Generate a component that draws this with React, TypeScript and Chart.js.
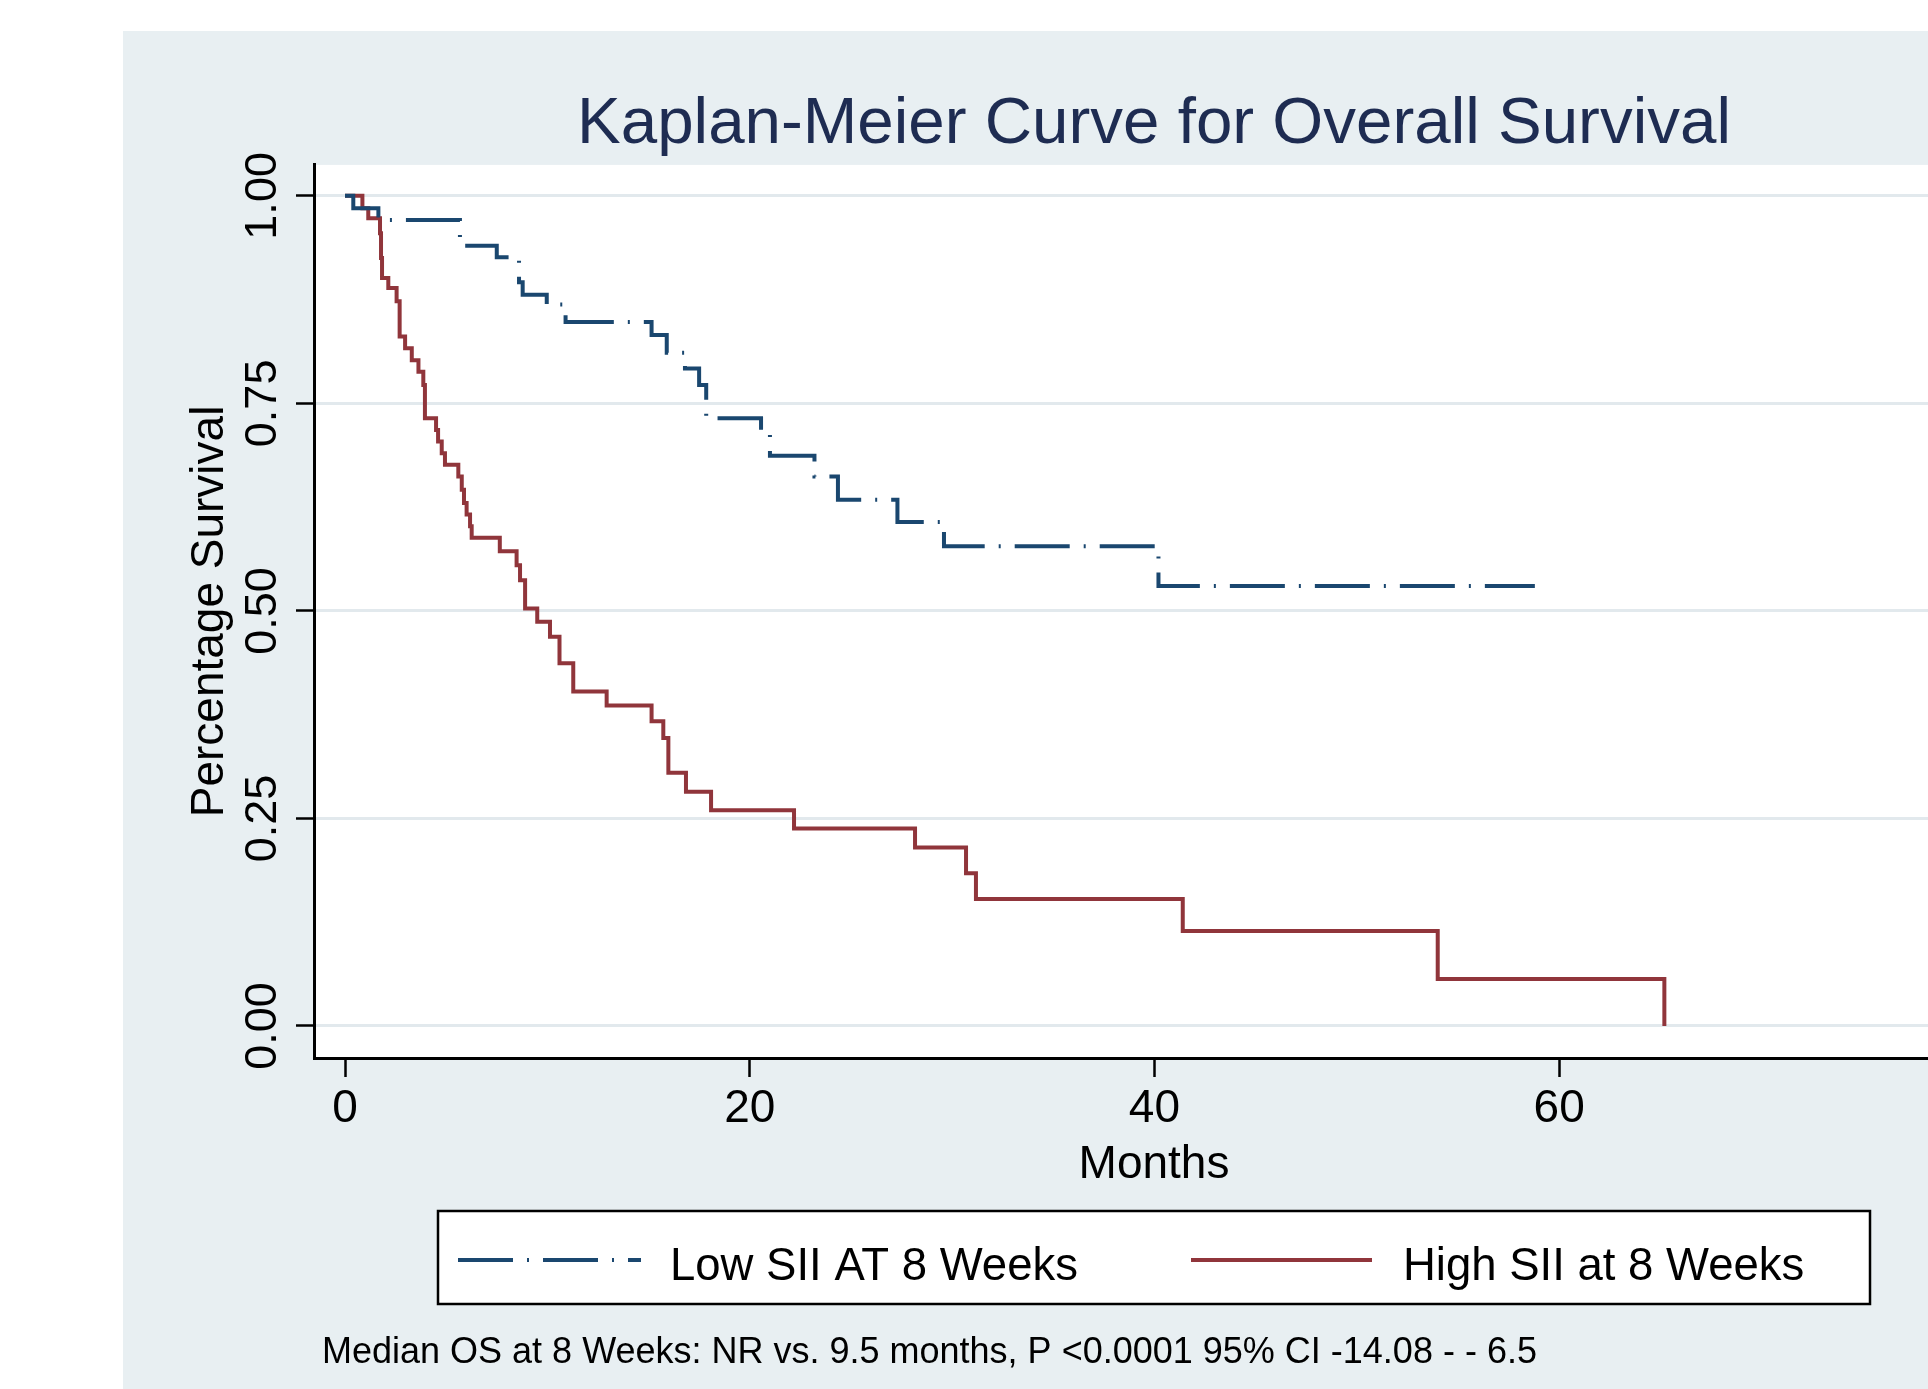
import React, { useEffect, useRef } from "react";
import { Chart, registerables } from "chart.js";

Chart.register(...registerables);

// ---------- data ----------
const LOW_LABEL = "Low SII AT 8 Weeks";
const HIGH_LABEL = "High SII at 8 Weeks";

const LOW_MONTHS = [0, 0.41, 1.65, 5.68, 7.5, 8.6, 8.78, 9.97, 10.9, 15.15, 15.9, 16.8, 17.5, 17.85, 20.56, 21.0, 23.2, 24.36, 27.3, 29.6, 40.2, 58.8];
const LOW_SURV = [1.0, 0.985, 0.971, 0.94, 0.926, 0.896, 0.881, 0.869, 0.848, 0.8325, 0.811, 0.792, 0.772, 0.732, 0.716, 0.687, 0.662, 0.634, 0.607, 0.578, 0.53, 0.53];

const HIGH_MONTHS = [0, 0.86, 1.15, 1.73, 1.78, 1.83, 2.14, 2.55, 2.7, 2.97, 3.3, 3.63, 3.87, 3.95, 4.5, 4.6, 4.78, 4.94, 5.6, 5.77, 5.88, 6.01, 6.18, 6.26, 7.65, 8.48, 8.65, 8.9, 9.5, 10.13, 10.6, 11.28, 12.93, 15.15, 15.73, 15.98, 16.85, 18.09, 22.19, 28.17, 30.69, 31.18, 41.4, 54.0, 65.2];
const HIGH_SURV = [1.0, 0.985, 0.973, 0.955, 0.925, 0.901, 0.889, 0.873, 0.8305, 0.8165, 0.802, 0.788, 0.772, 0.732, 0.718, 0.704, 0.69, 0.676, 0.662, 0.646, 0.63, 0.616, 0.602, 0.588, 0.572, 0.555, 0.537, 0.503, 0.487, 0.469, 0.437, 0.403, 0.386, 0.367, 0.347, 0.305, 0.282, 0.26, 0.238, 0.215, 0.184, 0.153, 0.1145, 0.0566, 0.0];

const X_TICKS = [0, 20, 40, 60];
const Y_TICKS = [0, 0.25, 0.5, 0.75, 1.0];
const Y_TICK_LABELS = ["0.00", "0.25", "0.50", "0.75", "1.00"];

const TITLE = "Kaplan-Meier Curve for Overall Survival";
const X_TITLE = "Months";
const Y_TITLE = "Percentage Survival";
const NOTE = "Median OS at 8 Weeks: NR vs. 9.5 months, P <0.0001 95% CI -14.08 - - 6.5";

// ---------- style ----------
const FONT = '"Liberation Sans", Arial, Helvetica, sans-serif';
const PANEL = "#e8eff2";
const GRID = "#e2e9ed";
const NAVY = "#1a476f";
const MAROON = "#90353b";
const TITLE_COLOR = "#1e2c52";

const CANVAS_W = 2000;
const CANVAS_H = 1389;

const toPoints = (xs: number[], ys: number[]) => xs.map((x, i) => ({ x, y: ys[i] }));

const backgroundPlugin = {
  id: "stataBackground",
  beforeDraw(chart: any) {
    const { ctx, chartArea } = chart;
    ctx.save();
    ctx.fillStyle = "#ffffff";
    ctx.fillRect(0, 0, chart.width, chart.height);
    ctx.fillStyle = PANEL;
    ctx.fillRect(123, 31, chart.width - 123, chart.height - 31);
    ctx.fillStyle = "#ffffff";
    ctx.fillRect(chartArea.left, chartArea.top, chartArea.right - chartArea.left, chartArea.bottom - chartArea.top);
    ctx.restore();
  },
};

const extrasPlugin = {
  id: "stataExtras",
  afterDraw(chart: any) {
    const { ctx, chartArea } = chart;
    const y = chart.scales.y;
    ctx.save();
    // rotated y tick labels
    ctx.fillStyle = "#000";
    ctx.font = `45px ${FONT}`;
    ctx.textAlign = "center";
    ctx.textBaseline = "alphabetic";
    Y_TICKS.forEach((v, i) => {
      const py = y.getPixelForValue(v);
      ctx.save();
      ctx.translate(276, py);
      ctx.rotate(-Math.PI / 2);
      ctx.fillText(Y_TICK_LABELS[i], 0, 0);
      ctx.restore();
    });
    // y title
    ctx.font = `46px ${FONT}`;
    ctx.save();
    ctx.translate(223, (chartArea.top + chartArea.bottom) / 2);
    ctx.rotate(-Math.PI / 2);
    ctx.fillText(Y_TITLE, 0, 0);
    ctx.restore();

    // boxed legend
    const bx = 438, by = 1211, bw = 1870 - 438, bh = 1304 - 1211;
    ctx.fillStyle = "#fff";
    ctx.fillRect(bx, by, bw, bh);
    ctx.strokeStyle = "#000";
    ctx.lineWidth = 2.5;
    ctx.setLineDash([]);
    ctx.strokeRect(bx, by, bw, bh);
    const items = [
      { x0: 458, x1: 641, tx: 670 },
      { x0: 1191, x1: 1372, tx: 1403 },
    ];
    chart.data.datasets.forEach((ds: any, i: number) => {
      const it = items[i];
      ctx.save();
      ctx.strokeStyle = ds.borderColor;
      ctx.lineWidth = ds.borderWidth;
      ctx.lineCap = "butt";
      ctx.setLineDash(ds.borderDash || []);
      ctx.beginPath();
      ctx.moveTo(it.x0, 1260);
      ctx.lineTo(it.x1, 1260);
      ctx.stroke();
      ctx.restore();
      ctx.fillStyle = "#000";
      ctx.font = `45.5px ${FONT}`;
      ctx.textAlign = "left";
      ctx.textBaseline = "alphabetic";
      ctx.fillText(ds.label, it.tx, 1280);
    });

    // footnote
    ctx.fillStyle = "#000";
    ctx.font = `36px ${FONT}`;
    ctx.textAlign = "left";
    ctx.textBaseline = "alphabetic";
    ctx.fillText(NOTE, 322, 1363);
    ctx.restore();
  },
};

export default function App() {
  const ref = useRef<HTMLCanvasElement | null>(null);

  useEffect(() => {
    if (!ref.current) return;
    const chart = new Chart(ref.current, {
      type: "line",
      data: {
        datasets: [
          {
            label: LOW_LABEL,
            data: toPoints(LOW_MONTHS, LOW_SURV),
            borderColor: NAVY,
            borderWidth: 4,
            borderDash: [55, 14, 2, 14],
            borderCapStyle: "butt",
            stepped: "before",
            pointRadius: 0,
            fill: false,
          },
          {
            label: HIGH_LABEL,
            data: toPoints(HIGH_MONTHS, HIGH_SURV),
            borderColor: MAROON,
            borderWidth: 4,
            stepped: "before",
            pointRadius: 0,
            fill: false,
          },
        ],
      },
      options: {
        responsive: false,
        maintainAspectRatio: false,
        animation: false,
        devicePixelRatio: 1,
        layout: { padding: { left: 314, right: 6, top: 0, bottom: 189.5 } },
        plugins: {
          legend: { display: false },
          tooltip: { enabled: false },
          title: {
            display: true,
            text: TITLE,
            color: TITLE_COLOR,
            font: { family: FONT, size: 65.5, weight: "normal" },
            padding: { top: 86, bottom: 0.3 },
          },
        },
        scales: {
          x: {
            type: "linear",
            min: -1.532,
            max: 81.49,
            afterBuildTicks: (axis: any) => {
              axis.ticks = X_TICKS.map((v) => ({ value: v }));
            },
            afterFit: (axis: any) => {
              axis.height = 141.5;
            },
            grid: { drawOnChartArea: false, drawTicks: true, tickLength: 19, tickColor: "#000", tickWidth: 2.5 },
            border: { color: "#000", width: 3 },
            ticks: { font: { family: FONT, size: 46 }, color: "#000", padding: 5, maxRotation: 0, autoSkip: false },
            title: { display: true, text: X_TITLE, color: "#000", font: { family: FONT, size: 46 }, padding: { top: 0, bottom: 7 } },
          },
          y: {
            type: "linear",
            min: -0.0386,
            max: 1.0373,
            afterBuildTicks: (axis: any) => {
              axis.ticks = Y_TICKS.map((v) => ({ value: v }));
            },
            afterFit: (axis: any) => {
              axis.width = 0;
            },
            grid: { color: GRID, lineWidth: 3, drawTicks: true, tickLength: 18, tickColor: "#000", tickWidth: 2.5 },
            border: { color: "#000", width: 3 },
            ticks: { display: false },
          },
        },
      },
      plugins: [backgroundPlugin, extrasPlugin],
    } as any);
    return () => chart.destroy();
  }, []);

  return (
    <div style={{ position: "absolute", left: 0, top: 0, width: 1928, height: 1389, overflow: "hidden", background: "#fff" }}>
      <canvas ref={ref} width={CANVAS_W} height={CANVAS_H} style={{ display: "block" }} />
    </div>
  );
}
